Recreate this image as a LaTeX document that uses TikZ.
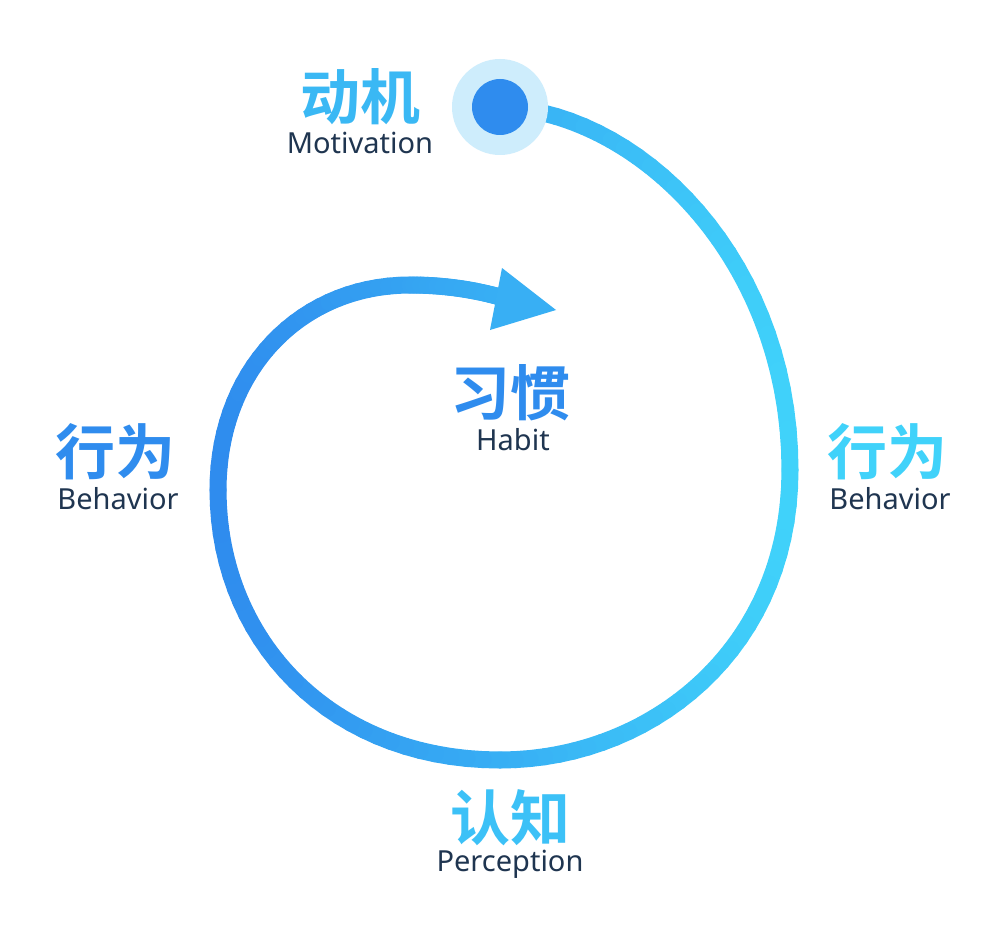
\documentclass[tikz,border=0pt]{standalone}
\usepackage{fontspec}
\setmainfont{Noto Sans}
\newfontfamily\cjk{Noto Sans CJK SC}[BoldFont={* Bold}]
\definecolor{cyanA}{HTML}{40D2FA}
\definecolor{cyanB}{HTML}{3AB8F4}
\definecolor{blueA}{HTML}{3399F0}
\definecolor{blueB}{HTML}{2F8CEE}
\definecolor{ink}{HTML}{1F3550}
\tikzset{zh/.style={font=\cjk\bfseries\fontsize{60}{64}\selectfont},
en/.style={font=\fontsize{29}{32}\selectfont,text=ink},
arc/.style={line width=17pt,line cap=round}}
\newcommand\gradseg[4]{%
 \foreach \i in {0,...,30}{\path #1 .. controls #2 and #3 .. #4 coordinate[pos=\i/30] (g\i);}
 \foreach \i [evaluate=\i as \j using int(\i+1)] in {0,...,29}{%
   \pgfpointanchor{g\i}{center}\pgfgetlastxy{\xx}{\yy}%
   \pgfmathsetmacro\m{max(0,min(100,(\xx-218)/5.72))}%
   \draw[arc,color=cyanA!\m!blueB] (g\i) -- (g\j);}}
\begin{document}
\begin{tikzpicture}[x=1pt,y=-1pt]
\useasboundingbox (0,0) rectangle (1000,944);
\fill[white] (0,0) rectangle (1000,944);
\gradseg{(500,107)}{(640,112)}{(790,260)}{(790,470)}
\gradseg{(790,470)}{(790,650)}{(650,760)}{(500,760)}
\gradseg{(500,760)}{(330,760)}{(218,640)}{(218,490)}
\gradseg{(218,490)}{(218,370)}{(300,285)}{(410,285)}
\gradseg{(410,285)}{(445,285)}{(475,290)}{(500,297)}
\fill[cyanA!50!blueB] (556,310) -- (502,268) -- (490,330) -- cycle;
\node[circle,fill=cyanB!25!white,minimum size=96pt,inner sep=0] (dot) at (500,107) {};
\node[circle,fill=blueB,minimum size=56pt,inner sep=0] at (dot) {};
\node[zh,text=cyanB] (mot) at (360,97) {动机};
\node[en] at (360,143) {Motivation};
\node[zh,text=blueB] (hab) at (510,393) {习惯};
\node[en] at (513,440) {Habit};
\node[zh,text=blueB] (bl) at (115,452) {行为};
\node[en] at (118,499) {Behavior};
\node[zh,text=cyanA] (br) at (887,452) {行为};
\node[en] at (890,499) {Behavior};
\node[zh,text=cyanA!70!blueA] (per) at (510,818) {认知};
\node[en] at (510,864) {Perception};
\end{tikzpicture}
\end{document}
